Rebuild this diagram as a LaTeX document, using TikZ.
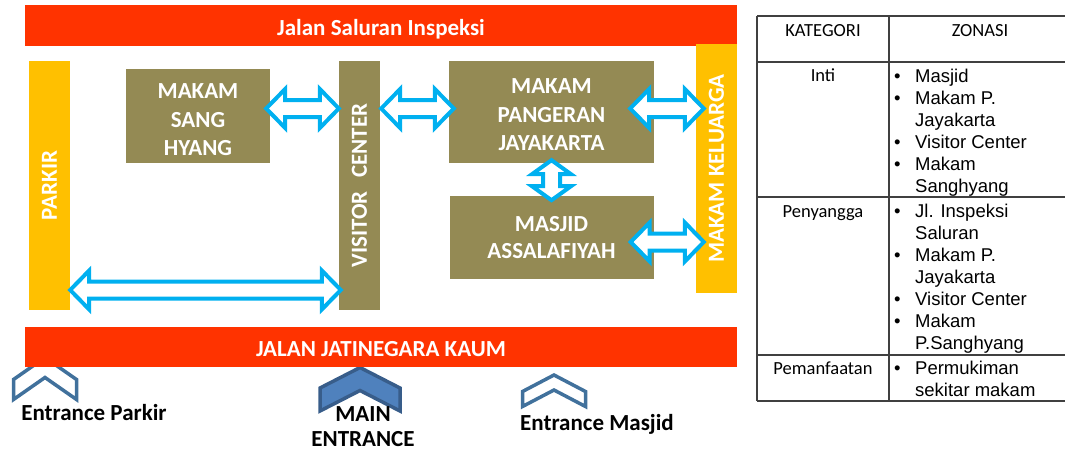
\documentclass[tikz,border=0pt]{standalone}
\usepackage{fontspec}
\setmainfont{Carlito}
\newfontfamily\arialfont{Liberation Sans}
\usepackage{tikz}
\usetikzlibrary{positioning, calc}
\definecolor{jalan}{HTML}{FF3300}
\definecolor{kuning}{HTML}{FFC000}
\definecolor{zaitun}{HTML}{948A54}
\definecolor{panah}{HTML}{00B0F0}
\definecolor{garis}{HTML}{41719C}
\definecolor{utama}{HTML}{4F81BD}
\definecolor{utamagaris}{HTML}{385D8A}
\definecolor{tabel}{HTML}{404040}
\newcommand{\headlen}{19pt}
\newcommand{\vheadlen}{14pt}
\newcommand{\headhalf}{19.5pt}
\newcommand{\shafthalf}{8.5pt}
% hollow double arrow, left to right
\newcommand{\dblarrowh}[2]{%
  \draw[hollow] let \p1=#1, \p2=#2 in
    (\x1,\y1) -- ({\x1+\headlen},{\y1+\headhalf}) -- ({\x1+\headlen},{\y1+\shafthalf})
    -- ({\x2-\headlen},{\y1+\shafthalf}) -- ({\x2-\headlen},{\y1+\headhalf}) -- (\x2,\y1)
    -- ({\x2-\headlen},{\y1-\headhalf}) -- ({\x2-\headlen},{\y1-\shafthalf})
    -- ({\x1+\headlen},{\y1-\shafthalf}) -- ({\x1+\headlen},{\y1-\headhalf}) -- cycle;}
% hollow double arrow, top to bottom
\newcommand{\dblarrowv}[2]{%
  \draw[hollow] let \p1=#1, \p2=#2 in
    (\x1,\y1) -- ({\x1+\headhalf},{\y1-\vheadlen}) -- ({\x1+\shafthalf},{\y1-\vheadlen})
    -- ({\x1+\shafthalf},{\y2+\vheadlen}) -- ({\x1+\headhalf},{\y2+\vheadlen}) -- (\x1,\y2)
    -- ({\x1-\headhalf},{\y2+\vheadlen}) -- ({\x1-\shafthalf},{\y2+\vheadlen})
    -- ({\x1-\shafthalf},{\y1-\vheadlen}) -- ({\x1-\headhalf},{\y1-\vheadlen}) -- cycle;}
% entrance chevron: centre x, peak y, half width, drop, thickness
\newcommand{\chevron}[6][chev]{%
  \draw[#1] ({#2-#4},{#3+#5}) -- (#2,#3) -- ({#2+#4},{#3+#5}) -- ({#2+#4},{#3+#5+#6})
    -- (#2,{#3+#6}) -- ({#2-#4},{#3+#5+#6}) -- cycle;}

\begin{document}
\begin{tikzpicture}[x=1pt, y=-1pt,
  bar/.style={fill=jalan, text=white, font=\bfseries\fontsize{23}{28}\selectfont,
              minimum width=712pt, inner sep=0pt, text height=19.5pt, text depth=0pt},
  side/.style={rotate=90, text=white, font=\bfseries\fontsize{23}{28}\selectfont,
              minimum width=249pt, minimum height=41pt, inner sep=0pt},
  zone/.style={fill=zaitun, text=white, align=center, inner sep=0pt,
              font=\bfseries\fontsize{23}{28.5}\selectfont},
  hollow/.style={draw=panah, fill=white, line width=4pt, line join=miter},
  chev/.style={draw=garis, fill=white, line width=3.5pt, line join=miter},
  mainchev/.style={chev, draw=utamagaris, fill=utama},
  gate/.style={font=\bfseries\fontsize{23}{25}\selectfont, align=center, inner sep=0pt},
  tabline/.style={draw=tabel, line width=1.5pt},
  kat/.style={font=\fontsize{18.5}{22}\selectfont, anchor=base, inner sep=0pt},
  zlist/.style={font=\arialfont\fontsize{18.5}{22}\selectfont, anchor=base west, inner sep=0pt}
]
\useasboundingbox (0,0) rectangle (1065,453);

% entrances (under the road)
\chevron{45}{357.5}{31.5}{22}{20}
\chevron[mainchev]{360}{367.5}{40}{20.5}{23}
\chevron{554}{375}{31.5}{16.5}{15}

% roads
\node[bar, minimum height=41pt] (inspeksi) at (381,25.5) {Jalan Saluran Inspeksi};
\node[bar, minimum height=40pt] (jatinegara) at (381,347) {JALAN JATINEGARA KAUM};

% zones (rotated bars: north is the left side)
\node[side, fill=kuning] (parkir) at (49.5,185.5) {PARKIR};
\node[side, fill=zaitun] (visitor) at (359.5,185.5) {VISITOR\hspace{0.6em}CENTER};
\node[side, fill=kuning] (keluarga) at (716.5,168.5) {MAKAM KELUARGA};
\node[zone, minimum width=144pt, minimum height=94pt, text height=80pt] (sanghyang) at (198,116) {MAKAM\\SANG\\HYANG};
\node[zone, minimum width=205pt, minimum height=102pt, text height=78pt] (pangeran) at (551.5,112) {MAKAM\\PANGERAN\\JAYAKARTA};
\node[zone, minimum width=204pt, minimum height=83pt, below=33pt of pangeran,
      font=\bfseries\fontsize{23}{27}\selectfont] (masjid) {MASJID\\ASSALAFIYAH};

% links
\coordinate (arow) at (0,108.5);
\coordinate (brow) at (0,242);
\coordinate (crow) at (0,290);
\dblarrowh{($(sanghyang.east |- arow)+(-4,0)$)}{(visitor.north |- arow)}
\dblarrowh{($(visitor.south |- arow)+(1,0)$)}{($(pangeran.west |- arow)+(5,0)$)}
\dblarrowh{($(pangeran.east |- arow)+(-24,0)$)}{($(keluarga.north |- arow)+(8,0)$)}
\dblarrowv{($(pangeran.south)+(0,-3)$)}{($(masjid.north)+(0,4)$)}
\dblarrowh{($(masjid.east |- brow)+(-23,0)$)}{($(keluarga.north |- brow)+(8,0)$)}
\dblarrowh{(parkir.south |- crow)}{($(visitor.north |- crow)+(2,0)$)}

% entrance labels
\node[gate, anchor=base] (gparkir) at (94,420) {Entrance Parkir};
\node[gate] (gmain) at (363,426.6) {MAIN\\ENTRANCE};
\node[gate, anchor=base] (gmasjid) at (597,430) {Entrance Masjid};

% zoning table
\draw[tabline] (757,16) -- (1065,16) (757,62) -- (1065,62) (757,197) -- (1065,197)
  (757,355) -- (1065,355) (757,401) -- (1065,401);
\draw[tabline] (757,16) -- (757,401) (889,16) -- (889,401);
\node[kat] (hkat) at (823,36) {KATEGORI};
\node[kat] (hzon) at (980,36) {ZONASI};
\node[kat] (kinti) at (823,81) {Inti};
\node[kat] (kpeny) at (823,217) {Penyangga};
\node[kat] (kmanf) at (823,374) {Pemanfaatan};
\node[zlist] (zinti) at (894,82) {\begin{tabular}[t]{@{}l@{\hspace{14.5pt}}l@{}}
  • & Masjid\\ • & Makam P.\\ & Jayakarta\\ • & Visitor Center\\ • & Makam\\ & Sanghyang
  \end{tabular}};
\node[zlist] (zpeny) at (894,217) {\begin{tabular}[t]{@{}l@{\hspace{14.5pt}}l@{}}
  • & Jl. Inspeksi\\ & Saluran\\ • & Makam P.\\ & Jayakarta\\ • & Visitor Center\\ • & Makam\\ & P.Sanghyang
  \end{tabular}};
\node[zlist] (zmanf) at (894,374) {\begin{tabular}[t]{@{}l@{\hspace{14.5pt}}l@{}}
  • & Permukiman\\ & sekitar makam
  \end{tabular}};
\end{tikzpicture}
\end{document}
